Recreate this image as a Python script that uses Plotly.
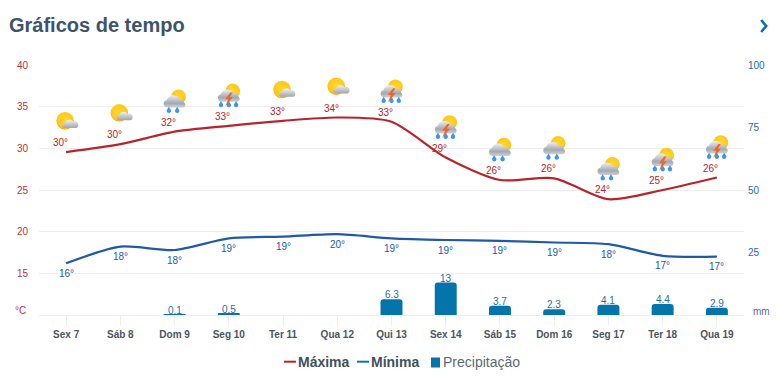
import base64
import plotly.graph_objects as go

days = ["Sex 7", "Sáb 8", "Dom 9", "Seg 10", "Ter 11", "Qua 12", "Qui 13", "Sex 14", "Sáb 15", "Dom 16", "Seg 17", "Ter 18", "Qua 19"]
t_max = [29.55, 30.5, 32.0, 32.7, 33.3, 33.7, 33.2, 28.9, 26.2, 26.4, 23.9, 25.0, 26.5]
t_min = [16.2, 18.2, 17.8, 19.2, 19.4, 19.7, 19.2, 19.0, 18.9, 18.7, 18.5, 17.1, 17.0]
max_labels = [30, 30, 32, 33, 33, 34, 33, 29, 26, 26, 24, 25, 26]
min_labels = [16, 18, 18, 19, 19, 20, 19, 19, 19, 19, 18, 17, 17]
precip = [None, None, 0.1, 0.5, None, None, 6.3, 13, 3.7, 2.3, 4.1, 4.4, 2.9]
precip_labels = ["", "", "0.1", "0.5", "", "", "6.3", "13", "3.7", "2.3", "4.1", "4.4", "2.9"]
icons = ["sun", "sun", "rain", "storm", "sun", "sun", "storm", "storm", "rain", "rain", "rain", "storm", "storm"]
temp_ticks = [15, 20, 25, 30, 35, 40]
precip_ticks = [25, 50, 75, 100]

RED, BLUE, BAR = "#b8242c", "#1f5aa8", "#0474ab"
LEFT, RIGHT = "#c0313a", "#2a68b4"
GRID = "#eeeeee"
W, H = 784, 376
ML, MR, MT, MB = 39.2, 40.2, 65, 61
PW, PH = W - ML - MR, H - MT - MB


def icon_uri(kind):
    defs = ('<defs><radialGradient id="s" cx="50%" cy="45%" r="55%"><stop offset="0%" stop-color="#ffd92e"/>'
            '<stop offset="80%" stop-color="#ffc81c"/><stop offset="100%" stop-color="#f6a90e"/></radialGradient>'
            '<linearGradient id="c" x1="0" y1="0" x2="0" y2="1"><stop offset="0%" stop-color="#f2f3f5"/>'
            '<stop offset="100%" stop-color="#9ea3ad"/></linearGradient>'
            '<linearGradient id="d" x1="0" y1="0" x2="0" y2="1"><stop offset="0%" stop-color="#eceef0"/>'
            '<stop offset="65%" stop-color="#a4a8b2"/><stop offset="100%" stop-color="#cfd2d9"/></linearGradient></defs>')
    if kind == "sun":
        body = ('<circle cx="11" cy="11.5" r="8.4" fill="url(#s)"/>'
                '<path d="M9.5 18.6 a3 3 0 0 1 1.5 -5.4 a4.5 4.5 0 0 1 8 -0.6 a3.2 3.2 0 0 1 3 6z" fill="url(#c)"/>')
    else:
        body = ('<circle cx="15.8" cy="8" r="7" fill="url(#s)"/>'
                '<path d="M5 18.5 a3.7 3.7 0 0 1 -0.6 -7.3 a6.5 6.5 0 0 1 11.8 -1.4 a4.3 4.3 0 0 1 5 3.7 a2.8 2.8 0 0 1 -0.6 5z" fill="url(#d)"/>')
        for cx in ((4.5, 12, 19) if kind == "storm" else (6.5, 14.5)):
            body += f'<path d="M{cx} 17.8 l1.9 3 a2.1 2.1 0 1 1 -3.8 0z" fill="#3f95ee"/>'
        if kind == "storm":
            body += '<path d="M13.5 9.5 l-5 6.5 h3 l-3 7 l7.5 -9 h-3.2 l3 -4.5z" fill="#f4641e"/>'
    svg = f'<svg xmlns="http://www.w3.org/2000/svg" width="48" height="48" viewBox="0 0 24 24">{defs}{body}</svg>'
    return "data:image/svg+xml;base64," + base64.b64encode(svg.encode()).decode()


fig = go.Figure()
fig.add_trace(go.Bar(x=days, y=precip, yaxis="y2", marker=dict(color=BAR, cornerradius=3, line_width=0), width=0.405,
                     hoverinfo="skip"))
fig.add_trace(go.Scatter(x=days, y=t_max, mode="lines", line=dict(color=RED, width=2.2, shape="spline", smoothing=0.75), hoverinfo="skip"))
fig.add_trace(go.Scatter(x=days, y=t_min, mode="lines", line=dict(color=BLUE, width=2.2, shape="spline", smoothing=0.75), hoverinfo="skip"))

annotations = []
images = []
for d, v, lab, mn, mlab, ic in zip(days, t_max, max_labels, t_min, min_labels, icons):
    annotations.append(dict(x=d, y=v, text=f"{lab}°", showarrow=False, xshift=-6, yshift=9.5,
                            font=dict(family="Liberation Sans", size=10, color=RED)))
    annotations.append(dict(x=d, y=mn, text=f"{mlab}°", showarrow=False, yshift=-10,
                            font=dict(family="Liberation Sans", size=10, color=BLUE)))
    images.append(dict(source=icon_uri(ic), xref="x", yref="y", x=d, y=v + 3.7, sizex=0.46, sizey=3.0,
                       xanchor="center", yanchor="middle", sizing="contain", layer="above"))

for d, p, lab in zip(days, precip, precip_labels):
    if p is not None:
        annotations.append(dict(x=d, y=p, yref="y2", text=lab, showarrow=False, yshift=4.5,
                                font=dict(family="Liberation Sans", size=10, color="#1f6fa8")))

annotations += [
    dict(xref="paper", x=0, xanchor="right", xshift=-11, yref="y", y=10, yshift=4.5, text="°C", showarrow=False,
         font=dict(family="Liberation Sans", size=10, color=LEFT)),
    dict(xref="paper", x=1, xanchor="left", xshift=7, yref="y", y=10, yshift=4, text="mm", showarrow=False,
         font=dict(family="Liberation Sans", size=10, color="#6a5fa8")),
    dict(xref="paper", yref="paper", x=-ML / PW, xanchor="left", xshift=7, y=(H - 25 - MB) / PH, yanchor="middle",
         text="<b>Gráficos de tempo</b>", showarrow=False, font=dict(family="Liberation Sans", size=20, color="#3f5468")),
]


def px(x):
    return (x - ML) / PW


def py(y):
    return (H - MB - y) / PH


shapes = []
legend = [("<b>Máxima</b>", RED, 284, 296, 298, "#42505c"),
          ("<b>Mínima</b>", "#1470ae", 357, 369, 371, "#42505c"),
          ("Precipitação", BAR, 431, 440, 443, "#5c6973")]
for name, col, x0, x1, tx, tc in legend:
    if name.startswith("<b>"):
        shapes.append(dict(type="line", xref="paper", yref="paper", x0=px(x0), x1=px(x1), y0=py(361.7), y1=py(361.7),
                           line=dict(color=col, width=2)))
    else:
        shapes.append(dict(type="rect", xref="paper", yref="paper", x0=px(x0), x1=px(x1), y0=py(367.5), y1=py(357.5),
                           fillcolor=col, line_width=0))
    annotations.append(dict(xref="paper", yref="paper", x=px(tx), y=py(361.5), xanchor="left", yanchor="middle", text=name,
                            showarrow=False, xshift=-2, font=dict(family="Liberation Sans", size=14, color=tc)))
shapes.append(dict(type="path", xref="paper", yref="paper", line=dict(color="#0474ab", width=2.6),
                   path=f"M {px(761)} {py(20)} L {px(766)} {py(26)} L {px(761)} {py(32)}"))

fig.update_layout(
    width=W, height=H, margin=dict(l=ML, r=MR, t=MT, b=MB, autoexpand=False),
    paper_bgcolor="white", plot_bgcolor="white", showlegend=False, bargap=0.6,
    font=dict(family="Liberation Sans"),
    xaxis=dict(type="category", categoryorder="array", categoryarray=days, range=[-0.5, 12.5], showgrid=False,
               showline=True, linecolor=GRID, linewidth=1, zeroline=False,
               ticks="outside", ticklen=10, tickcolor=GRID, tickwidth=1,
               tickfont=dict(family="Liberation Sans", size=10, color="#4a5560", weight="bold")),
    yaxis=dict(range=[10, 40], tickmode="array", tickvals=temp_ticks, ticktext=[str(t) for t in temp_ticks],
               gridcolor=GRID, gridwidth=1, zeroline=False, showline=False, ticks="", ticklabelstandoff=10,
               tickfont=dict(family="Liberation Sans", size=10, color=LEFT)),
    yaxis2=dict(range=[0, 100], overlaying="y", side="right", tickmode="array", tickvals=precip_ticks,
                ticktext=[str(t) for t in precip_ticks], showgrid=False, zeroline=False, showline=False, ticks="",
                ticklabelstandoff=3, tickfont=dict(family="Liberation Sans", size=10, color=RIGHT)),
    annotations=annotations, images=images, shapes=shapes,
)
fig.write_html("out.html", config={"displayModeBar": False},
               post_script="document.body.style.margin='0';document.body.style.overflow='hidden';")
